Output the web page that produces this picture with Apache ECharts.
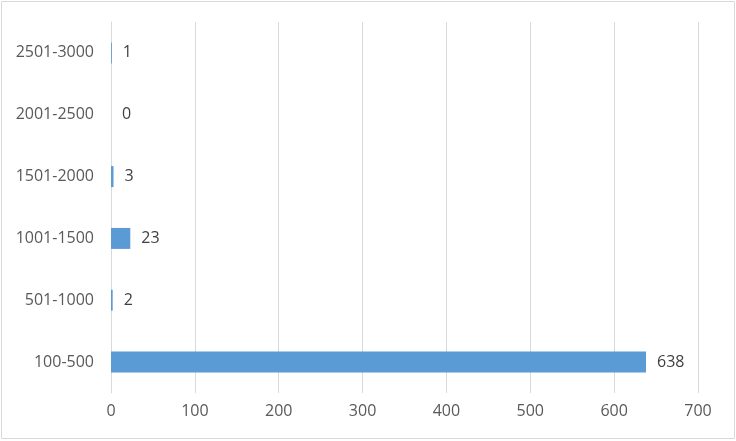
<!DOCTYPE html>
<html>
<head>
<meta charset="utf-8">
<script src="https://cdn.jsdelivr.net/npm/echarts@6/dist/echarts.min.js"></script>
<style>
html,body{margin:0;padding:0;background:#fff;}
#c{width:736px;height:441px;}
</style>
</head>
<body>
<div id="c"></div>
<script>
const categories = ['100-500', '501-1000', '1001-1500', '1501-2000', '2001-2500', '2501-3000'];
const values = [638, 2, 23, 3, 0, 1];
const xTicks = [0, 100, 200, 300, 400, 500, 600, 700];

const chart = echarts.init(document.getElementById('c'));
chart.setOption({
  animation: false,
  textStyle: { fontFamily: 'Open Sans' },
  graphic: [{
    type: 'rect', z: -10,
    shape: { x: 1.5, y: 1.5, width: 733, height: 437 },
    style: { fill: '#fff', stroke: '#d9d9d9', lineWidth: 1 }
  }],
  grid: { left: 111, right: 38, top: 22, bottom: 48 },
  xAxis: {
    type: 'value',
    min: xTicks[0], max: xTicks[xTicks.length - 1], interval: 100,
    axisLine: { show: false },
    axisTick: { show: false },
    splitLine: { lineStyle: { color: '#d9d9d9', width: 1 } },
    axisLabel: { color: '#595959', fontSize: 16, margin: 10 }
  },
  yAxis: {
    type: 'category',
    data: categories,
    axisLine: { show: true, lineStyle: { color: '#d9d9d9' } },
    axisTick: { show: false },
    axisLabel: { color: '#595959', fontSize: 16, margin: 17 }
  },
  series: [{
    type: 'bar',
    data: values,
    barWidth: 21,
    itemStyle: { color: '#5b9bd5' },
    label: { show: true, position: 'right', distance: 11, color: '#404040', fontSize: 16 }
  }]
});
</script>
</body>
</html>
